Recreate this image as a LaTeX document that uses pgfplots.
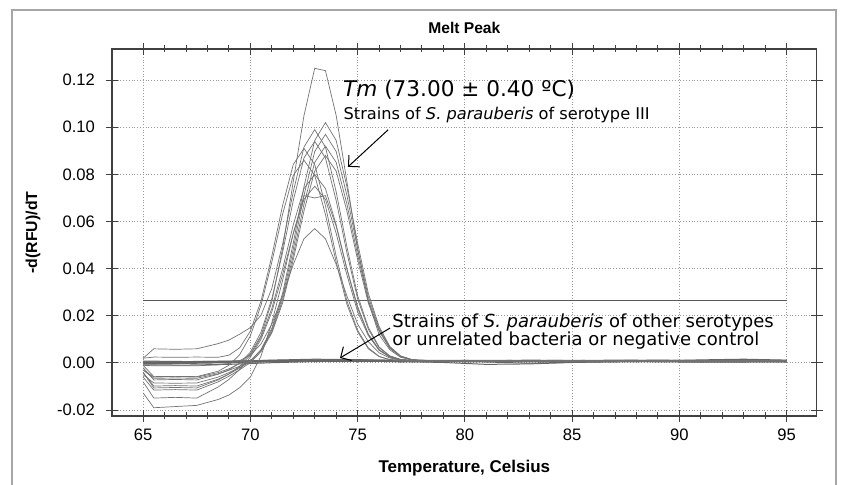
\documentclass[border=0pt]{standalone}
\usepackage{fontspec}
\setmainfont{Liberation Sans}
\newfontfamily\dejavu{DejaVu Sans}
\usepackage{pgfplots}
\pgfplotsset{compat=1.18}
\usepackage{pgfplotstable}
\usetikzlibrary{arrows.meta}

% melt peak curves, serotype III strains
\pgfplotstableread{
x     c1      c2      c3      c4      c5      c6      c7      c8      c9      c10     c11     c12     c13
65    -0.0030 -0.0040 0.0020  -0.0050 -0.0020 0.0020  -0.0060 -0.0010 -0.0040 -0.0080 -0.0127 -0.0010 -0.0030
65.5  -0.0060 -0.0098 0.0060  -0.0085 -0.0072 0.0025  -0.0115 -0.0058 -0.0106 -0.0149 -0.0190 -0.0012 -0.0065
66.5  -0.0058 -0.0096 0.0058  -0.0086 -0.0070 0.0024  -0.0113 -0.0057 -0.0104 -0.0146 -0.0185 -0.0012 -0.0064
67.5  -0.0060 -0.0098 0.0060  -0.0085 -0.0072 0.0025  -0.0115 -0.0058 -0.0106 -0.0149 -0.0180 -0.0012 -0.0065
68.5  -0.0041 -0.0069 0.0082  -0.0060 -0.0048 0.0024  -0.0080 -0.0035 -0.0072 -0.0102 -0.0155 -0.0008 -0.0046
69    -0.0025 -0.0047 0.0097  -0.0041 -0.0029 0.0033  -0.0056 -0.0010 -0.0047 -0.0070 -0.0136 -0.0002 -0.0031
69.5  -0.0002 -0.0022 0.0122  -0.0019 -0.0001 0.0064  -0.0029 0.0035  -0.0014 -0.0028 -0.0105 0.0010  -0.0014
70    0.0039  0.0007  0.0150  0.0008  0.0046  0.0135  0.0002  0.0115  0.0033  0.0024  -0.0060 0.0033  0.0010
70.5  0.0117  0.0057  0.0203  0.0055  0.0131  0.0264  0.0048  0.0246  0.0110  0.0101  0.0030  0.0081  0.0053
71    0.0260  0.0147  0.0316  0.0140  0.0272  0.0453  0.0127  0.0428  0.0231  0.0217  0.0170  0.0165  0.0132
71.5  0.0484  0.0295  0.0503  0.0280  0.0468  0.0667  0.0254  0.0630  0.0398  0.0374  0.0350  0.0284  0.0266
72    0.0770  0.0508  0.0726  0.0483  0.0689  0.0842  0.0438  0.0796  0.0586  0.0550  0.0550  0.0418  0.0458
72.5  0.1050  0.0748  0.0916  0.0711  0.0870  0.0910  0.0645  0.0860  0.0740  0.0694  0.0710  0.0527  0.0674
73    0.1250  0.0944  0.0990  0.0897  0.0940  0.0842  0.0814  0.0796  0.0800  0.0750  0.0700  0.0570  0.0851
73.5  0.1240  0.1020  0.0916  0.0970  0.0870  0.0667  0.0880  0.0630  0.0740  0.0694  0.0710  0.0527  0.0920
74    0.1050  0.0944  0.0726  0.0897  0.0689  0.0453  0.0814  0.0428  0.0586  0.0550  0.0580  0.0418  0.0851
74.5  0.0770  0.0748  0.0493  0.0711  0.0468  0.0263  0.0645  0.0249  0.0398  0.0374  0.0400  0.0284  0.0674
75    0.0484  0.0508  0.0286  0.0483  0.0272  0.0139  0.0438  0.0132  0.0231  0.0217  0.0240  0.0165  0.0458
75.5  0.0260  0.0295  0.0151  0.0280  0.0143  0.0064  0.0254  0.0060  0.0123  0.0116  0.0120  0.0090  0.0266
76    0.0120  0.0155  0.0068  0.0148  0.0065  0.0028  0.0135  0.0027  0.0057  0.0054  0.0055  0.0043  0.0140
76.5  0.0056  0.0070  0.0030  0.0067  0.0029  0.0014  0.0062  0.0014  0.0026  0.0025  0.0025  0.0021  0.0064
77    0.0024  0.0030  0.0015  0.0029  0.0015  0.0010  0.0027  0.0009  0.0014  0.0013  0.0013  0.0012  0.0028
77.5  0.0013  0.0015  0.0010  0.0015  0.0010  0.0008  0.0014  0.0008  0.0009  0.0009  0.0009  0.0009  0.0014
78    0.0009  0.0010  0.0008  0.0009  0.0008  0.0009  0.0010  0.0010  0.0008  0.0008  0.0008  0.0008  0.0009
80    0.0010  0.0008  0.0009  0.0007  0.0010  0.0008  0.0009  0.0008  0.0010  0.0007  0.0009  0.0008  0.0008
85    0.0008  0.0010  0.0007  0.0009  0.0008  0.0010  0.0007  0.0009  0.0008  0.0009  0.0007  0.0009  0.0010
90    0.0009  0.0007  0.0010  0.0008  0.0007  0.0009  0.0010  0.0008  0.0009  0.0010  0.0008  0.0008  0.0008
95    0.0007  0.0009  0.0008  0.0010  0.0009  0.0007  0.0008  0.0010  0.0008  0.0008  0.0009  0.0009  0.0009
}\peaks

% flat curves: other serotypes, unrelated bacteria, negative control
\pgfplotstableread{
x   f1      f2      f3      f4      f5      f6      f7      f8
65  0.0000  0.0005  -0.0004 0.0002  0.0008  -0.0002 0.0003  -0.0008
67  0.0002  0.0004  -0.0002 0.0003  0.0006  0.0000  0.0005  -0.0009
69  0.0004  0.0006  0.0001  0.0005  0.0007  0.0003  0.0008  -0.0006
71  0.0008  0.0012  0.0005  0.0009  0.0010  0.0007  0.0011  0.0001
73  0.0010  0.0016  0.0008  0.0011  0.0013  0.0009  0.0012  0.0006
75  0.0012  0.0014  0.0009  0.0010  0.0011  0.0008  0.0013  0.0007
77  0.0009  0.0010  0.0006  0.0012  0.0008  0.0005  0.0011  0.0006
79  0.0008  0.0009  0.0002  0.0011  0.0007  0.0006  0.0010  0.0005
81  0.0006  0.0008  -0.0006 0.0010  0.0009  0.0004  0.0011  0.0007
83  0.0007  0.0010  -0.0004 0.0009  0.0012  -0.0001 0.0010  0.0006
85  0.0008  0.0011  0.0002  0.0010  0.0010  0.0003  0.0009  0.0004
87  0.0009  0.0009  0.0005  0.0012  0.0007  0.0006  0.0010  0.0005
89  0.0007  0.0008  0.0006  0.0011  0.0009  0.0005  0.0012  0.0007
91  0.0008  0.0011  0.0004  0.0010  0.0013  0.0003  0.0010  0.0006
93  0.0010  0.0014  0.0005  0.0012  0.0016  0.0004  0.0009  0.0005
95  0.0008  0.0010  0.0006  0.0011  0.0012  0.0005  0.0010  0.0004
}\flats

\begin{document}
\begin{tikzpicture}
\useasboundingbox (0,0) rectangle (421.5pt,242.5pt);
\draw[black!35, line width=0.6pt] (6pt,0) -- (6pt,237.5pt) -- (418pt,237.5pt) -- (418pt,0);
\begin{axis}[
    at={(56pt,34.5pt)}, anchor=south west,
    scale only axis, width=352.35pt, height=183.5pt,
    xmin=63.55, xmax=96.4,
    ymin=-0.0225, ymax=0.1332,
    xtick={65,70,...,95}, minor x tick num=4,
    ytick={-0.02,0,0.02,...,0.121}, minor y tick num=4,
    tick align=center,
    major tick length=6pt, minor tick length=3.5pt,
    every tick/.style={black!75, line width=0.5pt},
    axis line style={black!75, line width=0.6pt},
    grid=major,
    major grid style={densely dotted, black!40, line width=0.5pt},
    /pgf/number format/assume math mode=true,
    yticklabel style={/pgf/number format/fixed, /pgf/number format/fixed zerofill,
        /pgf/number format/precision=2, xshift=-2pt},
    scaled y ticks=false,
    ticklabel style={font=\fontsize{8.3}{10}\selectfont},
    title={Melt Peak},
    title style={at={(axis description cs:0.5,1.0245)}, anchor=center,
        font=\bfseries\fontsize{7.8}{9}\selectfont},
    xlabel={Temperature, Celsius},
    xlabel style={at={(axis description cs:0.5,-0.1417)}, anchor=center,
        font=\bfseries\fontsize{8.5}{10}\selectfont},
    ylabel={-d(RFU)/dT},
    ylabel style={at={(axis description cs:-0.1121,0.5)}, anchor=center,
        font=\bfseries\fontsize{7.9}{10}\selectfont},
]
% threshold line
\addplot[black!65, line width=0.7pt] coordinates {(65,0.0264) (95,0.0264)};

\pgfplotsinvokeforeach{1,...,8}{
  \addplot[black!60, line width=0.5pt] table[x=x, y=f#1] {\flats};
}
\pgfplotsinvokeforeach{1,...,13}{
  \addplot[black!55, line width=0.35pt] table[x=x, y=c#1] {\peaks};
}

\node[anchor=base west, inner sep=0pt, font=\dejavu\fontsize{10.8}{12}\selectfont]
    at (axis cs:74.31,0.1132) {\textit{Tm} (73.00 ± 0.40 ºC)};
\node[anchor=base west, inner sep=0pt, font=\dejavu\fontsize{8.1}{10}\selectfont]
    at (axis cs:74.33,0.1031) {Strains of \textit{S. parauberis} of serotype III};
\node[anchor=base west, inner sep=0pt, font=\dejavu\fontsize{9}{10}\selectfont]
    at (axis cs:76.60,0.0152) {Strains of \textit{S. parauberis} of other serotypes};
\node[anchor=base west, inner sep=0pt, font=\dejavu\fontsize{9}{10}\selectfont]
    at (axis cs:76.60,0.0076) {or unrelated bacteria or negative control};
\draw[-{Straight Barb[length=4pt]}, line width=0.5pt]
    (axis cs:76.42,0.0989) -- (axis cs:74.55,0.0832);
\draw[-{Straight Barb[length=4pt]}, line width=0.5pt]
    (axis cs:76.51,0.0148) -- (axis cs:74.18,0.0021);
\end{axis}
\end{tikzpicture}
\end{document}
